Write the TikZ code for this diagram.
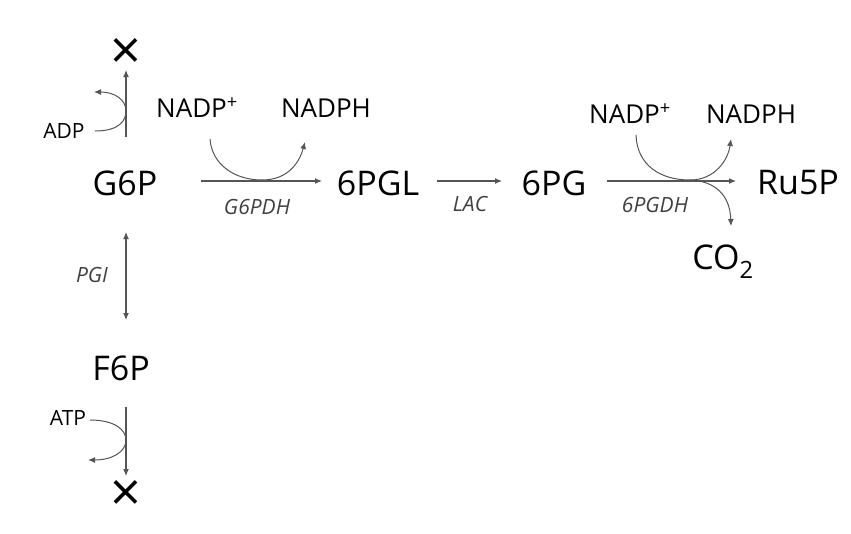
\documentclass[tikz,border=0pt]{standalone}
\usepackage{fontspec}
\setmainfont{Open Sans}
\usetikzlibrary{arrows.meta}
\definecolor{ln}{HTML}{555555}
\tikzset{
  big/.style={font=\fontsize{34}{34}\selectfont, inner sep=0pt},
  small/.style={font=\fontsize{26}{26}\selectfont, inner sep=0pt},
  enz/.style={font=\fontsize{21}{21}\selectfont\itshape, text=black!75, inner sep=0pt},
  xmark/.style={font=\fontsize{54}{54}\selectfont, inner sep=0pt},
  rx/.style={draw=ln, line width=1.1pt, -{Latex[length=7pt,width=6pt]}},
  rxx/.style={draw=ln, line width=1.1pt, {Latex[length=7pt,width=6pt]}-{Latex[length=7pt,width=6pt]}},
  cva/.style={draw=ln, line width=1pt, -{Latex[length=7pt,width=6pt]}}
}
\begin{document}
\begin{tikzpicture}[x=1pt, y=-1pt]
\useasboundingbox (0,0) rectangle (851,533);
% metabolites
\node[big] (g6p) at (125,183) {G6P};
\node[big] (pgl) at (378,183) {6PGL};
\node[big] (pg) at (554,183) {6PG};
\node[big] (ru5p) at (798,183) {Ru5P};
\node[big] (co2) at (723,262) {CO\textsubscript{2}};
\node[big] (f6p) at (121,368) {F6P};
% cofactors
\node[small] (nadp1) at (197,108) {NADP\textsuperscript{+}};
\node[small] (nadph1) at (326,108) {NADPH};
\node[small] (nadp2) at (630,114) {NADP\textsuperscript{+}};
\node[small] (nadph2) at (751,114) {NADPH};
\node[font=\fontsize{21}{21}\selectfont, inner sep=0pt] (adp) at (64,131) {ADP};
\node[font=\fontsize{21}{21}\selectfont, inner sep=0pt] (atp) at (68,418) {ATP};
% enzymes
\node[enz] (g6pdh) at (257,207) {G6PDH};
\node[enz] (lac) at (470,204) {LAC};
\node[enz] (pgdh) at (655,205) {6PGDH};
\node[enz] (pgi) at (92,275) {PGI};
% X marks
\node[xmark] (x1) at (126,54) {×};
\node[xmark] (x2) at (126,496) {×};
% coordinates
\coordinate (a1s) at (201,181);
\coordinate (a1e) at (322,181);
\coordinate (a2s) at (437,181);
\coordinate (a2e) at (502,181);
\coordinate (a3s) at (607,181);
\coordinate (a3e) at (736,181);
\coordinate (c1s) at (210,139);
\coordinate (c1m) at (262,180);
\coordinate (c1e) at (305,142);
\coordinate (c2s) at (636,135);
\coordinate (c2m) at (690,180);
\coordinate (c2e) at (731,139);
\coordinate (c3e) at (731,226);
\coordinate (v1s) at (126,137);
\coordinate (v1e) at (126,70);
\coordinate (adps) at (95,131);
\coordinate (adpe) at (94,92);
\coordinate (p1) at (126,232);
\coordinate (p2) at (126,320);
\coordinate (v2s) at (126,407);
\coordinate (v2e) at (126,476);
\coordinate (atps) at (90,420);
\coordinate (atpe) at (88,460);
% main reactions
\draw[rx] (a1s) -- (a1e);
\draw[rx] (a2s) -- (a2e);
\draw[rx] (a3s) -- (a3e);
\draw[rxx] (p1) -- (p2);
\draw[rx] (v1s) -- (v1e);
\draw[rx] (v2s) -- (v2e);
% cofactor curves
\draw[cva] (c1s) .. controls (212,165) and (235,180) .. (c1m) .. controls (290,180) and (300,160) .. (c1e);
\draw[cva] (c2s) .. controls (637,165) and (660,180) .. (c2m) .. controls (715,180) and (728,160) .. (c2e);
\draw[cva] (c2m) .. controls (715,181) and (730,195) .. (c3e);
\draw[cva] (adps) .. controls (120,131) and (126,120) .. (126,111) .. controls (126,100) and (115,92) .. (adpe);
\draw[cva] (atps) .. controls (115,420) and (126,430) .. (126,440) .. controls (126,452) and (112,460) .. (atpe);
\end{tikzpicture}
\end{document}
